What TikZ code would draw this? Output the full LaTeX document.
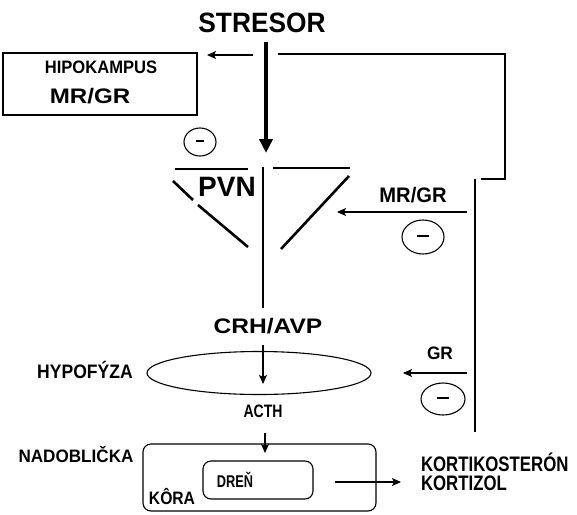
\documentclass[tikz,border=0pt]{standalone}
\usepackage{fontspec}
\setmainfont{Liberation Sans}
\usepackage{graphicx}
\usetikzlibrary{arrows.meta,shapes.geometric}
\newcommand{\pxt}[3]{{\fontsize{#1pt}{#1pt}\selectfont\bfseries\scalebox{#2}[1]{#3}}}
\begin{document}
\begin{tikzpicture}[x=1pt,y=1pt,
  lbl/.style={inner sep=0pt,outer sep=0pt},
  ln/.style={line width=1.1pt},
  pvnline/.style={line width=2.6pt},
  arr/.style={line width=1.1pt,-{Stealth[length=9pt,width=8pt,inset=2pt]}},
  bigarr/.style={line width=3.8pt,-{Triangle[length=14pt,width=13pt]}},
  minus/.style={draw,ellipse,line width=1.1pt,inner sep=0pt},
  box/.style={draw,line width=1.1pt,inner sep=0pt},
  rbox/.style={draw,line width=1.1pt,inner sep=0pt,rounded corners=8pt}]
\useasboundingbox (0,0) rectangle (577,-514);

% texts
\node[lbl] (stresor) at (262,-23) {\pxt{28}{0.94}{STRESOR}};
\node[box,minimum width=194pt,minimum height=62pt] (hipo) at (100,-84) {};
\node[lbl] (hipo1) at (101,-67) {\pxt{18}{0.92}{HIPOKAMPUS}};
\node[lbl] (hipo2) at (90,-96) {\pxt{21}{1.15}{MR/GR}};
\node[lbl] (pvn) at (227,-187) {\pxt{28}{1.0}{PVN}};
\node[lbl] (mrgr) at (413,-195) {\pxt{21}{0.96}{MR/GR}};
\node[lbl] (gr) at (440,-353) {\pxt{18}{0.96}{GR}};
\node[lbl] (crh) at (268,-326) {\pxt{21}{1.17}{CRH/AVP}};
\node[lbl] (hypo) at (85,-370) {\pxt{19.5}{0.9}{HYPOFÝZA}};
\node[lbl] (acth) at (263,-411) {\pxt{18}{0.78}{ACTH}};
\node[lbl] (nado) at (76,-455) {\pxt{18}{0.95}{NADOBLIČKA}};
\node[lbl] (dren) at (235,-480) {\pxt{17}{0.75}{DREŇ}};
\node[lbl] (kora) at (172,-497) {\pxt{18}{0.87}{KÔRA}};
\node[lbl,anchor=west] (kortik) at (421,-462) {\pxt{21}{0.8}{KORTIKOSTERÓN}};
\node[lbl,anchor=west] (kortiz) at (421,-483) {\pxt{21}{0.8}{KORTIZOL}};

% minus circles
\node[minus,minimum width=32pt,minimum height=28pt] (m1) at (200,-142) {\rule[0.5ex]{8pt}{2pt}};
\node[minus,minimum width=42pt,minimum height=34pt] (m2) at (423,-237) {\rule[0.5ex]{12pt}{2.2pt}};
\node[minus,minimum width=44pt,minimum height=32pt] (m3) at (443,-399) {\rule[0.5ex]{12pt}{2.2pt}};

% hypofyza and adrenal
\node[draw,ellipse,line width=1.1pt,minimum width=224pt,minimum height=43pt,inner sep=0pt] (ell) at (259,-373) {};
\node[rbox,minimum width=233pt,minimum height=67pt] (outer) at (259.5,-477.5) {};
\node[rbox,minimum width=110pt,minimum height=38pt] (inner) at (258,-480) {};

% stressor arrow
\coordinate (sT) at (266,-42);
\coordinate (sB) at (266,-153);
\draw[bigarr] (sT) -- (sB);

% arrow to hippocampus
\coordinate (hA) at (253,-55);
\coordinate (hB) at (207,-55);
\draw[arr] (hA) -- (hB);

% feedback loop
\coordinate (f1) at (278,-54);
\coordinate (f2) at (505,-54);
\coordinate (f3) at (505,-179);
\coordinate (f4) at (481,-179);
\draw[ln] (f1) -- (f2) -- (f3) -- (f4);
\coordinate (v1) at (475,-179);
\coordinate (v2) at (475,-432);
\draw[ln] (v1) -- (v2);
\coordinate (a1) at (467,-212);
\coordinate (a2) at (337,-212);
\draw[arr] (a1) -- (a2);
\coordinate (g1) at (467,-373);
\coordinate (g2) at (403,-373);
\draw[arr] (g1) -- (g2);

% PVN
\coordinate (p1) at (175,-169); \coordinate (p2) at (248,-169);
\coordinate (p3) at (273,-168); \coordinate (p4) at (350,-168);
\draw[pvnline] (p1) -- (p2);
\draw[pvnline] (p3) -- (p4);
\coordinate (q1) at (173,-181); \coordinate (q2) at (193,-200);
\coordinate (q3) at (198,-205); \coordinate (q4) at (248,-247);
\draw[pvnline] (q1) -- (q2);
\draw[pvnline] (q3) -- (q4);
\coordinate (r1) at (349,-176); \coordinate (r2) at (281,-249);
\draw[pvnline] (r1) -- (r2);
\coordinate (c1) at (263,-167); \coordinate (c2) at (263,-308);
\draw[line width=1.6pt] (c1) -- (c2);

% arrows down
\coordinate (e1) at (263,-345); \coordinate (e2) at (263,-384);
\draw[arr] (e1) -- (e2);
\coordinate (t1) at (265,-433); \coordinate (t2) at (265,-453);
\draw[arr] (t1) -- (t2);
\coordinate (o1) at (335,-482); \coordinate (o2) at (401,-482);
\draw[arr] (o1) -- (o2);
\end{tikzpicture}
\end{document}
